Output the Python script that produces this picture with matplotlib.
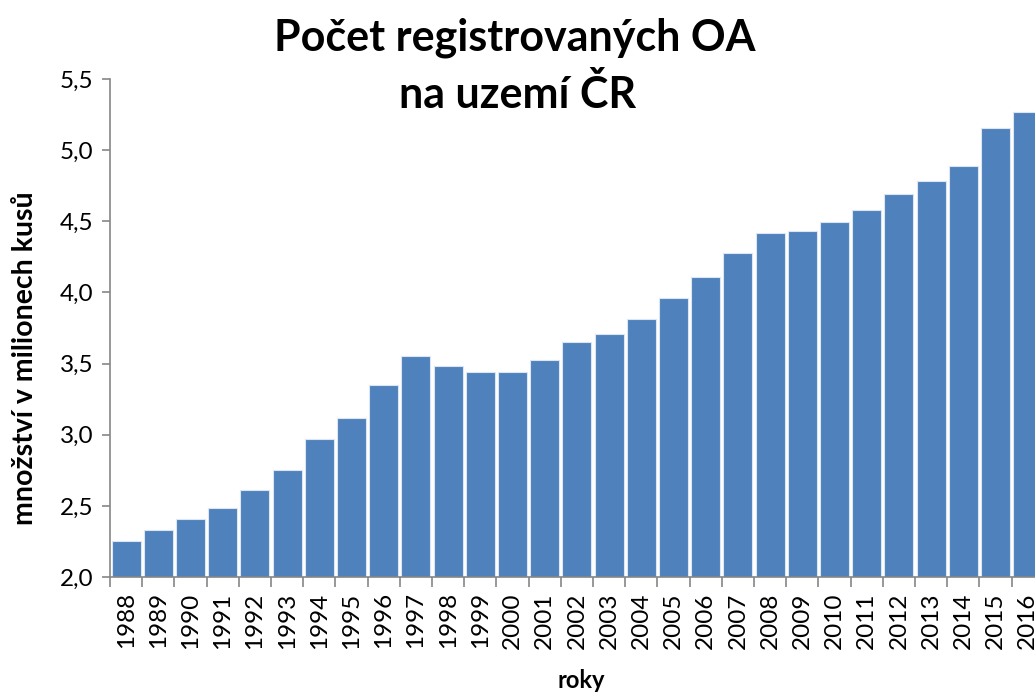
import matplotlib
matplotlib.use("Agg")
import matplotlib.pyplot as plt
import numpy as np
from matplotlib.ticker import FuncFormatter

years = [str(y) for y in range(1988, 2017)]
values = [2.25, 2.33, 2.41, 2.485, 2.61, 2.75, 2.97, 3.115, 3.35, 3.55,
          3.48, 3.44, 3.44, 3.525, 3.65, 3.705, 3.815, 3.96, 4.105, 4.28,
          4.42, 4.435, 4.495, 4.58, 4.695, 4.785, 4.89, 5.155, 5.27]
title_lines = ['Počet registrovaných OA', 'na uzemí ČR']

plt.rcParams['font.family'] = ['Lato', 'DejaVu Sans']
fam = ['Lato', 'DejaVu Sans']

fig = plt.figure(figsize=(10.35, 6.95), dpi=100)
# axes runs a little past the right edge, like the cropped original
ax = fig.add_axes([0.1063, 0.1698, 0.9022, 0.7165])

x = np.arange(len(years))
ax.bar(x, values, width=0.9, color='#4F81BD', edgecolor='#DCE6F2', linewidth=0.8)

ax.set_xlim(-0.5, len(years) - 0.5)
ax.set_ylim(2.0, 5.5)
ax.set_yticks(np.arange(2.0, 5.51, 0.5))
ax.yaxis.set_major_formatter(FuncFormatter(lambda v, p: f"{v:.1f}".replace('.', ',')))

ax.set_xticks(x)
ax.set_xticklabels(years, rotation=90, fontsize=17.5)
ax.set_xticks(np.arange(-0.5, len(years), 1), minor=True)
ax.tick_params(axis='x', which='major', length=0, pad=11)
ax.tick_params(axis='x', which='minor', length=7, width=1.2, color='#868686')
ax.tick_params(axis='y', length=6, width=1.2, color='#868686', labelsize=17.5, pad=6)

for s in ['top', 'right']:
    ax.spines[s].set_visible(False)
for s in ['left', 'bottom']:
    ax.spines[s].set_color('#868686')
    ax.spines[s].set_linewidth(1.2)

ax.set_ylabel('množství v milionech kusů', fontsize=20.5, fontweight='bold')
ax.yaxis.set_label_coords(-0.077, 0.44)
ax.set_xlabel('roky', fontsize=17, fontweight='bold', va='baseline')
ax.xaxis.set_label_coords(0.505, -0.222)

fig.text(0.497, 1 - 50 / 695, title_lines[0], ha='center', va='baseline',
         fontsize=31, fontweight='bold', family=fam)
fig.text(0.5, 1 - 108 / 695, title_lines[1], ha='center', va='baseline',
         fontsize=31, fontweight='bold', family=fam)

fig.savefig('out.png', dpi=100)
